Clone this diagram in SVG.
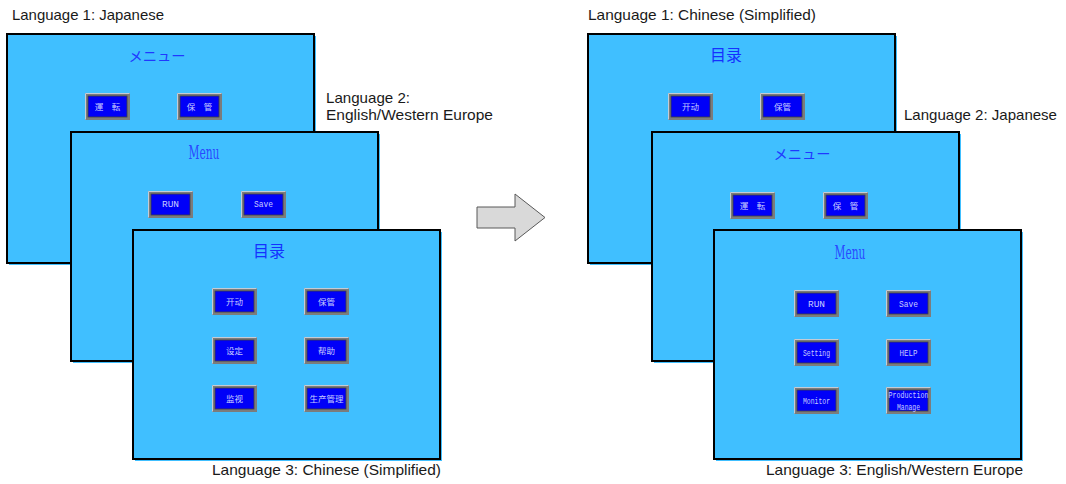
<svg xmlns="http://www.w3.org/2000/svg" width="1066" height="484" viewBox="0 0 1066 484">
<style>
.lbl{font-family:"Liberation Sans",Arial,sans-serif;font-size:14.5px;fill:#1a1a1a}
.shadow{fill:#40bfff}
.panel{fill:#40bfff;stroke:#000;stroke-width:2}
.bo{fill:#7c7c7c}
.hl{fill:none;stroke:#c4ccd6;stroke-width:1}
.bi{fill:#0000f8;stroke:#404040;stroke-width:0.8}
.bt{font-family:"Noto Sans CJK SC","Noto Sans CJK JP",sans-serif;font-size:8.5px;fill:#c8ccff;text-anchor:middle}
.be{font-family:"Liberation Mono","DejaVu Sans Mono",monospace;font-size:9px;fill:#c8ccff;text-anchor:middle}
.tj{font-family:"Noto Sans CJK JP",sans-serif;font-size:14px;fill:#2038ff;text-anchor:middle}
.tc{font-family:"Noto Sans CJK SC",sans-serif;font-size:16px;fill:#1530ff;text-anchor:middle}
.te{font-family:"DejaVu Serif","Liberation Serif",serif;font-size:18px;fill:#2a48ff;text-anchor:middle}
</style>
<defs>
<g id="btn">
<rect class="bo" x="0" y="0" width="45" height="27"/>
<path class="hl" d="M0.5,26.5 V0.5 H44.5"/>
<rect class="bi" x="3" y="3" width="39" height="21"/>
</g>
</defs>

<g id="left-panel1">
<rect class="shadow" x="9" y="36" width="307" height="229"/>
<rect class="panel" x="7" y="34" width="307" height="229"/>
<text class="tj" x="157" y="61" textLength="57" lengthAdjust="spacingAndGlyphs">メニュー</text>
<use href="#btn" x="85" y="93"/><text class="bt" x="107.5" y="110">運　転</text>
<use href="#btn" x="177" y="93"/><text class="bt" x="199.5" y="110">保　管</text>
</g>
<g id="left-panel2">
<rect class="shadow" x="73" y="134" width="307" height="229"/>
<rect class="panel" x="71" y="132" width="307" height="229"/>
<text class="te" x="204" y="159" textLength="31" lengthAdjust="spacingAndGlyphs">Menu</text>
<use href="#btn" x="148" y="191"/><text class="be" x="170.5" y="207" textLength="17" lengthAdjust="spacingAndGlyphs">RUN</text>
<use href="#btn" x="241" y="191"/><text class="be" x="263.5" y="207" textLength="19" lengthAdjust="spacingAndGlyphs">Save</text>
</g>
<g id="left-panel3">
<rect class="shadow" x="135" y="232" width="307" height="229"/>
<rect class="panel" x="133" y="230" width="307" height="229"/>
<text class="tc" x="269" y="257">目录</text>
<use href="#btn" x="212" y="288"/><text class="bt" x="234.5" y="305">开动</text>
<use href="#btn" x="304" y="288"/><text class="bt" x="326.5" y="305">保管</text>
<use href="#btn" x="212" y="337"/><text class="bt" x="234.5" y="354">设定</text>
<use href="#btn" x="304" y="337"/><text class="bt" x="326.5" y="354">帮助</text>
<use href="#btn" x="212" y="385"/><text class="bt" x="234.5" y="402">监视</text>
<use href="#btn" x="304" y="385"/><text class="bt" x="326.5" y="402">生产管理</text>
</g>

<g id="right-panel1">
<rect class="shadow" x="590" y="36" width="307" height="229"/>
<rect class="panel" x="588" y="34" width="307" height="229"/>
<text class="tc" x="726" y="61">目录</text>
<use href="#btn" x="668" y="93"/><text class="bt" x="690.5" y="110">开动</text>
<use href="#btn" x="760" y="93"/><text class="bt" x="782.5" y="110">保管</text>
</g>
<g id="right-panel2">
<rect class="shadow" x="654" y="134" width="307" height="229"/>
<rect class="panel" x="652" y="132" width="307" height="229"/>
<text class="tj" x="802" y="159" textLength="57" lengthAdjust="spacingAndGlyphs">メニュー</text>
<use href="#btn" x="730" y="192"/><text class="bt" x="752.5" y="209">運　転</text>
<use href="#btn" x="823" y="192"/><text class="bt" x="845.5" y="209">保　管</text>
</g>
<g id="right-panel3">
<rect class="shadow" x="716" y="232" width="307" height="229"/>
<rect class="panel" x="714" y="230" width="307" height="229"/>
<text class="te" x="850" y="259" textLength="31" lengthAdjust="spacingAndGlyphs">Menu</text>
<use href="#btn" x="794" y="290"/><text class="be" x="816.5" y="307" textLength="17" lengthAdjust="spacingAndGlyphs">RUN</text>
<use href="#btn" x="886" y="290"/><text class="be" x="908.5" y="307" textLength="19" lengthAdjust="spacingAndGlyphs">Save</text>
<use href="#btn" x="794" y="339"/><text class="be" x="816.5" y="356" textLength="27" lengthAdjust="spacingAndGlyphs">Setting</text>
<use href="#btn" x="886" y="339"/><text class="be" x="908.5" y="356" textLength="18" lengthAdjust="spacingAndGlyphs">HELP</text>
<use href="#btn" x="794" y="387"/><text class="be" x="816.5" y="404" textLength="27" lengthAdjust="spacingAndGlyphs">Monitor</text>
<use href="#btn" x="886" y="387"/><text class="be" x="908.5" y="398" textLength="40" lengthAdjust="spacingAndGlyphs">Production</text><text class="be" x="908.5" y="410" textLength="23" lengthAdjust="spacingAndGlyphs">Manage</text>
</g>

<g id="connectors">
<path d="M477,207 H515 V194 L545,217.5 L515,241 V228 H477 Z" fill="#d9d9d9" stroke="#595959" stroke-width="1"/>
</g>

<g id="labels">
<text class="lbl" x="12" y="20" textLength="152" lengthAdjust="spacingAndGlyphs">Language 1: Japanese</text>
<text class="lbl" x="326" y="103" textLength="84" lengthAdjust="spacingAndGlyphs">Language 2:</text>
<text class="lbl" x="326" y="120" textLength="167" lengthAdjust="spacingAndGlyphs">English/Western Europe</text>
<text class="lbl" x="212" y="475" textLength="229" lengthAdjust="spacingAndGlyphs">Language 3: Chinese (Simplified)</text>
<text class="lbl" x="588" y="20" textLength="228" lengthAdjust="spacingAndGlyphs">Language 1: Chinese (Simplified)</text>
<text class="lbl" x="904" y="120" textLength="153" lengthAdjust="spacingAndGlyphs">Language 2: Japanese</text>
<text class="lbl" x="766" y="475" textLength="257" lengthAdjust="spacingAndGlyphs">Language 3: English/Western Europe</text>
</g>
</svg>
